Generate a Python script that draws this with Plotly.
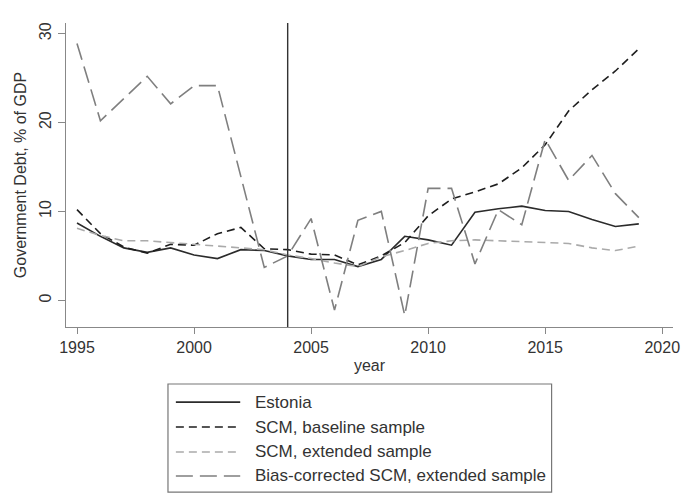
import plotly.graph_objects as go

# Government debt, % of GDP
years = list(range(1995, 2020))

estonia = [8.7, 7.2, 5.9, 5.4, 5.9, 5.1, 4.7, 5.7, 5.6, 5.0, 4.6, 4.6, 3.8, 4.6,
           7.2, 6.8, 6.2, 9.9, 10.3, 10.6, 10.1, 10.0, 9.1, 8.3, 8.6]
scm_baseline = [10.2, 7.5, 6.0, 5.3, 6.3, 6.2, 7.5, 8.2, 5.8, 5.7, 5.2, 5.1, 4.0, 5.0,
                6.5, 9.5, 11.4, 12.2, 13.1, 14.9, 17.5, 21.3, 23.7, 25.8, 28.3]
scm_extended = [8.1, 7.3, 6.7, 6.7, 6.5, 6.3, 6.1, 5.9, 5.7, 5.1, 4.7, 4.2, 3.8, 4.9,
                5.6, 6.4, 6.7, 6.8, 6.7, 6.6, 6.5, 6.4, 5.9, 5.6, 6.1]
bias_corrected = [28.9, 20.2, 22.7, 25.2, 22.1, 24.15, 24.15, 14.0, 3.7, 5.0, 9.2, -1.1,
                  9.0, 10.0, -1.7, 12.6, 12.6, 4.1, 10.2, 8.5, 18.1, 13.5, 16.3, 12.0, 9.3]

treatment_year = 2004

series_names = ["Estonia", "SCM, baseline sample", "SCM, extended sample",
                "Bias-corrected SCM, extended sample"]
series_values = [estonia, scm_baseline, scm_extended, bias_corrected]
series_colors = ["#2b2b2b", "#1e1e1e", "#aaaaaa", "#7f7f7f"]
series_dash = ["solid", "8px,5px", "8px,5px", "17px,7px"]

FONT = "Liberation Sans, Arial, sans-serif"

fig = go.Figure()
for name, vals, col, dash in zip(series_names, series_values, series_colors, series_dash):
    fig.add_trace(go.Scatter(x=years, y=vals, mode="lines", name=name,
                             line=dict(color=col, width=1.6, dash=dash),
                             showlegend=False))

# intervention marker
fig.add_shape(type="line", xref="x", yref="paper", x0=treatment_year, x1=treatment_year,
              y0=0, y1=1, line=dict(color="#333333", width=1.4))

# legend box drawn below the axes
box_l, box_r, box_t, box_b = 0.168, 0.80, -0.1875, -0.543
fig.add_shape(type="rect", xref="paper", yref="paper", x0=box_l, x1=box_r,
              y0=box_b, y1=box_t, line=dict(color="#777777", width=1.2),
              fillcolor="white")
row_y = [-0.247, -0.329, -0.411, -0.490]
for name, col, dash, ry in zip(series_names, series_colors, series_dash, row_y):
    fig.add_shape(type="line", xref="paper", yref="paper", x0=0.181, x1=0.287,
                  y0=ry, y1=ry, line=dict(color=col, width=1.6, dash=dash))
    fig.add_annotation(xref="paper", yref="paper", x=0.308, y=ry, text=name,
                       showarrow=False, xanchor="left", yanchor="middle",
                       font=dict(family=FONT, size=17, color="#333333"))

fig.update_layout(
    width=690, height=495,
    margin=dict(l=66, r=10, t=23, b=168),
    paper_bgcolor="white", plot_bgcolor="white",
    font=dict(family=FONT, size=16, color="#333333"),
    xaxis=dict(range=[1994.53, 2020.46], tickvals=[1995, 2000, 2005, 2010, 2015, 2020],
               showgrid=False, zeroline=False, showline=True, linecolor="#888888",
               linewidth=1.3, ticks="outside", ticklen=6, tickcolor="#888888",
               tickfont=dict(size=16, color="#333333"),
               title=dict(text="year", standoff=4, font=dict(size=16, color="#333333"))),
    yaxis=dict(range=[-3.0, 31.2], tickvals=[0, 10, 20, 30], tickangle=-90,
               showgrid=False, zeroline=False, showline=True, linecolor="#888888",
               linewidth=1.3, ticks="outside", ticklen=7, tickcolor="#888888",
               tickfont=dict(size=16, color="#333333"),
               title=dict(text="Government Debt, % of GDP", standoff=6,
                          font=dict(size=16, color="#333333"))),
)

fig.write_html("out.html")
